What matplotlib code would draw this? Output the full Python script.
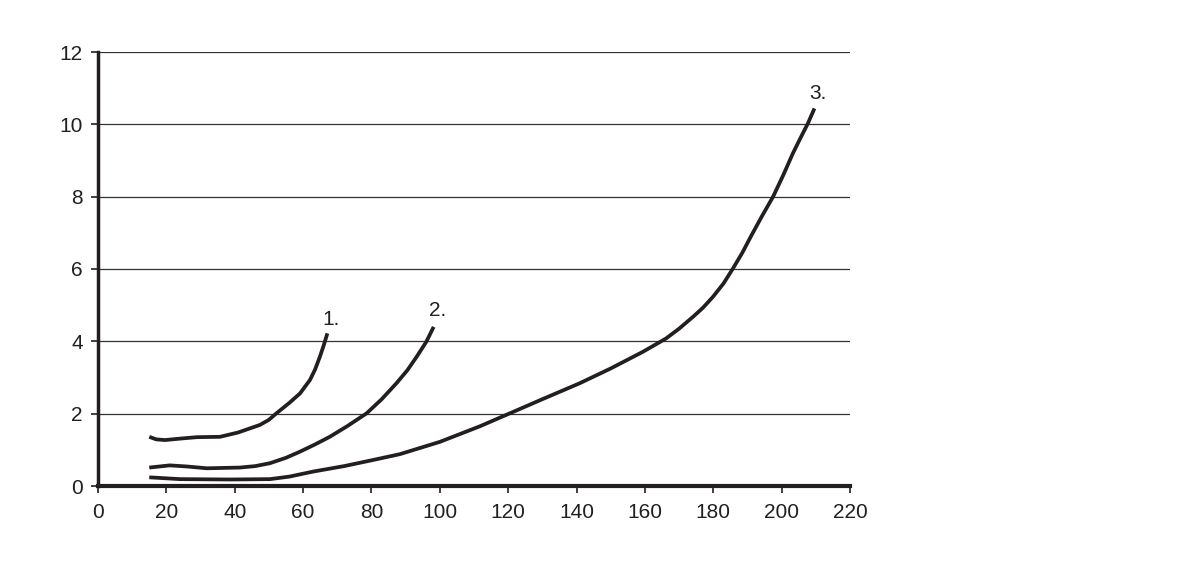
import matplotlib
matplotlib.use("Agg")
import matplotlib.pyplot as plt

# Curve 1
x1 = [15.0, 17.0, 19.6, 24.0, 28.9, 35.7, 41.0, 47.4, 50.0, 52.2, 56.0, 59.1, 62.0, 63.5, 64.9, 66.0, 67.1]
y1 = [1.36, 1.29, 1.27, 1.31, 1.35, 1.36, 1.48, 1.69, 1.83, 2.01, 2.30, 2.56, 2.93, 3.22, 3.57, 3.88, 4.22]
# Curve 2
x2 = [15.0, 21.0, 26.0, 31.8, 41.5, 46.0, 50.3, 55.0, 59.1, 63.5, 67.8, 73.0, 78.6, 83.0,
      87.3, 90.5, 93.2, 96.0, 98.2]
y2 = [0.51, 0.57, 0.54, 0.49, 0.51, 0.55, 0.63, 0.78, 0.95, 1.15, 1.36, 1.66, 2.01, 2.40,
      2.84, 3.20, 3.57, 3.98, 4.40]
# Curve 3
x3 = [15.0, 24.0, 38.6, 50.3, 56.0, 63.0, 72.0, 80.5, 88.3, 100.0, 111.7, 120.5, 130.0,
      140.9, 150.0, 159.4, 166.2, 170.0, 174.1, 177.0, 179.9, 183.0, 185.8, 188.5, 191.0,
      194.0, 197.5, 200.5, 203.3, 205.5, 207.7, 209.6]
y3 = [0.24, 0.19, 0.18, 0.19, 0.26, 0.40, 0.55, 0.72, 0.88, 1.22, 1.65, 2.01, 2.40,
      2.84, 3.25, 3.71, 4.08, 4.35, 4.68, 4.93, 5.23, 5.60, 6.02, 6.45, 6.90,
      7.42, 8.00, 8.60, 9.20, 9.62, 10.03, 10.44]

labels = ["1.", "2.", "3."]
label_pos = [(68.2, 4.6), (99.3, 4.85), (210.5, 10.85)]

x_ticks = list(range(0, 221, 20))
y_ticks = list(range(0, 13, 2))

plt.rcParams['font.family'] = ['Liberation Sans', 'DejaVu Sans']

fig = plt.figure(figsize=(11.99, 5.62), dpi=100)
ax = fig.add_axes([98/1199, 76/562, 752/1199, 434/562])

for xs, ys in [(x1, y1), (x2, y2), (x3, y3)]:
    ax.plot(xs, ys, color="#231f20", lw=2.7, solid_capstyle="butt",
            solid_joinstyle="round", zorder=3)

for t, (lx, ly) in zip(labels, label_pos):
    ax.text(lx, ly, t, fontsize=15, color="#231f20", ha="center", va="center")

ax.set_xlim(0, 220)
ax.set_ylim(0, 12)
ax.set_xticks(x_ticks)
ax.set_yticks(y_ticks)
for y in y_ticks[1:]:
    ax.axhline(y, color="#333333", lw=0.9, zorder=1)

ax.spines['top'].set_visible(False)
ax.spines['right'].set_visible(False)
ax.spines['left'].set_linewidth(2.5)
ax.spines['bottom'].set_linewidth(3.0)
ax.spines['left'].set_color("#231f20")
ax.spines['bottom'].set_color("#231f20")
ax.tick_params(axis='both', labelsize=15, colors="#231f20", length=5, width=1.2, direction='out')
ax.tick_params(axis='x', pad=7)
ax.tick_params(axis='y', pad=6)

fig.savefig("out.png", dpi=100)
